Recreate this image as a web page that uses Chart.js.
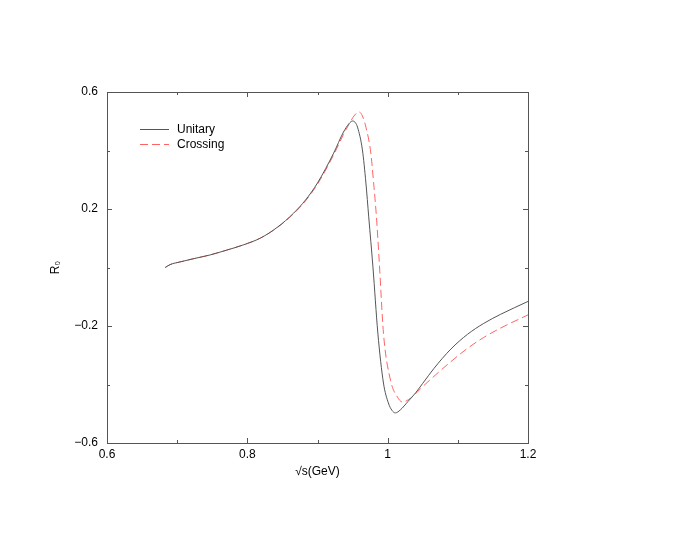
<!DOCTYPE html>
<html>
<head>
<meta charset="utf-8">
<script src="https://cdn.jsdelivr.net/npm/chart.js@4"></script>
<style>
  html, body { margin: 0; padding: 0; background: #fff; }
  #wrap { width: 692px; height: 535px; }
</style>
</head>
<body>
<div id="wrap"><canvas id="chart" width="692" height="535"></canvas></div>
<script>
// values
const unitaryX = [0.683, 0.690, 0.704, 0.725, 0.747, 0.770, 0.794, 0.819, 0.843, 0.866, 0.883, 0.900, 0.923, 0.937, 0.945, 0.950, 0.954, 0.957, 0.964, 0.969, 0.973, 0.979, 0.986, 0.994, 1.001, 1.006, 1.011, 1.018, 1.029, 1.040, 1.050, 1.066, 1.090, 1.114, 1.137, 1.161, 1.200];
const unitaryY = [0.000, 0.010, 0.019, 0.031, 0.043, 0.059, 0.077, 0.101, 0.138, 0.186, 0.231, 0.289, 0.391, 0.463, 0.492, 0.501, 0.495, 0.480, 0.402, 0.289, 0.173, 0.002, -0.224, -0.395, -0.463, -0.488, -0.497, -0.487, -0.458, -0.428, -0.396, -0.345, -0.279, -0.228, -0.191, -0.160, -0.116];

const crossingX = [0.683, 0.690, 0.704, 0.725, 0.747, 0.770, 0.794, 0.819, 0.843, 0.866, 0.883, 0.900, 0.923, 0.937, 0.945, 0.952, 0.959, 0.964, 0.969, 0.976, 0.980, 0.984, 0.988, 0.994, 1.004, 1.014, 1.021, 1.033, 1.047, 1.066, 1.090, 1.114, 1.137, 1.161, 1.200];
const crossingY = [0.000, 0.010, 0.019, 0.031, 0.043, 0.059, 0.077, 0.101, 0.137, 0.184, 0.228, 0.285, 0.385, 0.455, 0.490, 0.518, 0.532, 0.518, 0.480, 0.391, 0.289, 0.173, 0.020, -0.224, -0.385, -0.443, -0.460, -0.446, -0.414, -0.372, -0.322, -0.276, -0.239, -0.207, -0.162];

const xTicks = [0.6, 0.8, 1.0, 1.2];
const xMinorTicks = [0.7, 0.9, 1.1];
const yTicks = [-0.6, -0.2, 0.2, 0.6];
const yMinorTicks = [-0.4, 0, 0.4];

const toPoints = (xs, ys) => xs.map((x, i) => ({ x: x, y: ys[i] }));

const fmt = v => {
  const r = Math.round(v * 10) / 10;
  return (r < 0 ? '\u2212' : '') + Math.abs(r).toString();
};

// frame, inward ticks and the legend
const framePlugin = {
  id: 'frame',
  afterDatasetsDraw(chart) {
    const { ctx, chartArea: a, scales } = chart;
    const xs = scales.x, ys = scales.y;
    ctx.save();
    ctx.strokeStyle = '#555';
    ctx.lineWidth = 1;
    ctx.strokeRect(Math.round(a.left) + 0.5, Math.round(a.top) + 0.5,
      Math.round(a.right - a.left), Math.round(a.bottom - a.top));
    const tick = (vals, len) => {
      vals.forEach(v => {
        const px = Math.round(xs.getPixelForValue(v)) + 0.5;
        ctx.beginPath();
        ctx.moveTo(px, a.bottom); ctx.lineTo(px, a.bottom - len);
        ctx.moveTo(px, a.top); ctx.lineTo(px, a.top + len);
        ctx.stroke();
      });
    };
    const ytick = (vals, len) => {
      vals.forEach(v => {
        const py = Math.round(ys.getPixelForValue(v)) + 0.5;
        ctx.beginPath();
        ctx.moveTo(a.left, py); ctx.lineTo(a.left + len, py);
        ctx.moveTo(a.right, py); ctx.lineTo(a.right - len, py);
        ctx.stroke();
      });
    };
    tick(xTicks, 5); tick(xMinorTicks, 3);
    ytick(yTicks, 5); ytick(yMinorTicks, 3);

    // legend
    ctx.font = '12px "Liberation Sans", Arial, sans-serif';
    ctx.textBaseline = 'middle';
    chart.data.datasets.forEach((ds, i) => {
      const y = 129.5 + i * 15;
      ctx.strokeStyle = ds.borderColor;
      ctx.lineWidth = ds.borderWidth;
      ctx.setLineDash(ds.borderDash || []);
      ctx.beginPath();
      ctx.moveTo(140, y); ctx.lineTo(169, y);
      ctx.stroke();
      ctx.setLineDash([]);
      ctx.fillStyle = '#000';
      ctx.fillText(ds.label, 177, y);
    });
    ctx.restore();
  }
};

new Chart(document.getElementById('chart'), {
  type: 'line',
  data: {
    datasets: [{
      label: 'Unitary',
      data: toPoints(unitaryX, unitaryY),
      borderColor: '#555',
      borderWidth: 1,
      pointRadius: 0,
      cubicInterpolationMode: 'monotone',
      fill: false
    }, {
      label: 'Crossing',
      data: toPoints(crossingX, crossingY),
      borderColor: '#ff6464',
      borderWidth: 1,
      borderDash: [8, 4],
      pointRadius: 0,
      cubicInterpolationMode: 'monotone',
      fill: false
    }]
  },
  options: {
    responsive: false,
    animation: false,
    devicePixelRatio: 1,
    layout: { padding: { left: 40, right: 164, top: 92, bottom: 52 } },
    plugins: { legend: { display: false }, tooltip: { enabled: false } },
    scales: {
      x: {
        type: 'linear',
        min: 0.6,
        max: 1.2,
        afterBuildTicks: s => { s.ticks = xTicks.map(v => ({ value: v })); },
        afterFit: s => { s.height = 40; },
        grid: { display: false, drawTicks: false },
        border: { display: false },
        ticks: {
          color: '#000',
          padding: 4,
          maxRotation: 0,
          font: { family: '"Liberation Sans", Arial, sans-serif', size: 12 },
          callback: v => fmt(v)
        },
        title: {
          display: true,
          text: '\u221As(GeV)',
          color: '#000',
          padding: { top: 0, bottom: 4 },
          font: { family: '"Liberation Sans", Arial, sans-serif', size: 12 }
        }
      },
      y: {
        type: 'linear',
        min: -0.6,
        max: 0.6,
        afterBuildTicks: s => { s.ticks = yTicks.map(v => ({ value: v })); },
        afterFit: s => { s.width = 67; },
        grid: { display: false, drawTicks: false },
        border: { display: false },
        ticks: {
          color: '#000',
          padding: 9,
          font: { family: '"Liberation Sans", Arial, sans-serif', size: 12 },
          callback: v => fmt(v)
        },
        title: {
          display: true,
          text: 'R\u2080',
          color: '#000',
          padding: { top: 8, bottom: 0 },
          font: { family: '"Liberation Sans", Arial, sans-serif', size: 12 }
        }
      }
    }
  },
  plugins: [framePlugin]
});
</script>
</body>
</html>
